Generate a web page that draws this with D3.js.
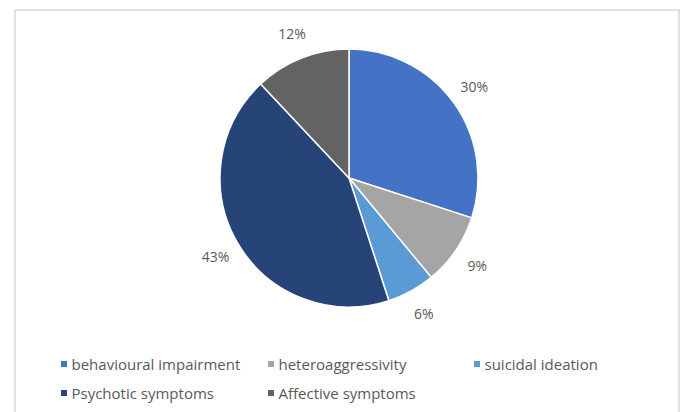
<!DOCTYPE html>
<html>
<head>
<meta charset="utf-8">
<script src="https://cdn.jsdelivr.net/npm/d3@7/dist/d3.min.js"></script>
<style>
  body { margin: 0; background: #fff; }
  svg { display: block; }
</style>
</head>
<body>
<svg id="chart" width="684" height="412"></svg>
<script>
const categories = ['behavioural impairment', 'heteroaggressivity', 'suicidal ideation', 'Psychotic symptoms', 'Affective symptoms']
const values = [30, 9, 6, 43, 12]
const colors = ['#4472C4', '#A5A5A5', '#5B9BD5', '#264478', '#636363']

const width = 684, height = 412
const cx = 349, cy = 178, radius = 129
const fontFamily = '"Open Sans", "Noto Sans", sans-serif'

const svg = d3.select('#chart')

// chart frame (bottom edge falls outside the picture)
svg.append('rect')
  .attr('x', 15).attr('y', 10)
  .attr('width', 664).attr('height', 420)
  .attr('fill', '#fff')
  .attr('stroke', '#d9d9d9').attr('stroke-width', 1.5)

const data = categories.map((c, i) => ({ name: c, value: values[i], color: colors[i] }))

const pie = d3.pie().sort(null).value(d => d.value)
const arc = d3.arc().innerRadius(0).outerRadius(radius)
const labelArc = d3.arc().innerRadius(155).outerRadius(155)

const g = svg.append('g').attr('transform', `translate(${cx}, ${cy})`)

g.selectAll('path.slice').data(pie(data))
  .enter().append('path')
  .attr('class', 'slice')
  .attr('d', arc)
  .attr('fill', d => d.data.color)
  .attr('stroke', '#fff')
  .attr('stroke-width', 1.5)
  .attr('stroke-linejoin', 'round')

g.selectAll('text.label').data(pie(data))
  .enter().append('text')
  .attr('class', 'label')
  .attr('transform', d => `translate(${labelArc.centroid(d)})`)
  .attr('text-anchor', 'middle')
  .attr('dominant-baseline', 'central')
  .style('font-family', fontFamily)
  .style('font-size', '14px')
  .style('fill', '#595959')
  .text(d => d.data.value + '%')

// legend: three items on the first row, two on the second
const legendCols = [61, 268, 474]
const legendRows = [364, 393]

const legend = svg.append('g').selectAll('g').data(data)
  .enter().append('g')
  .attr('transform', (d, i) => `translate(${legendCols[i % 3]}, ${legendRows[Math.floor(i / 3)]})`)

legend.append('rect')
  .attr('x', 0).attr('y', -3)
  .attr('width', 6).attr('height', 6)
  .attr('fill', d => d.color)

legend.append('text')
  .attr('x', 10.5).attr('y', 0)
  .attr('dominant-baseline', 'central')
  .style('font-family', fontFamily)
  .style('font-size', '15px')
  .style('fill', '#595959')
  .text(d => d.name)
</script>
</body>
</html>
